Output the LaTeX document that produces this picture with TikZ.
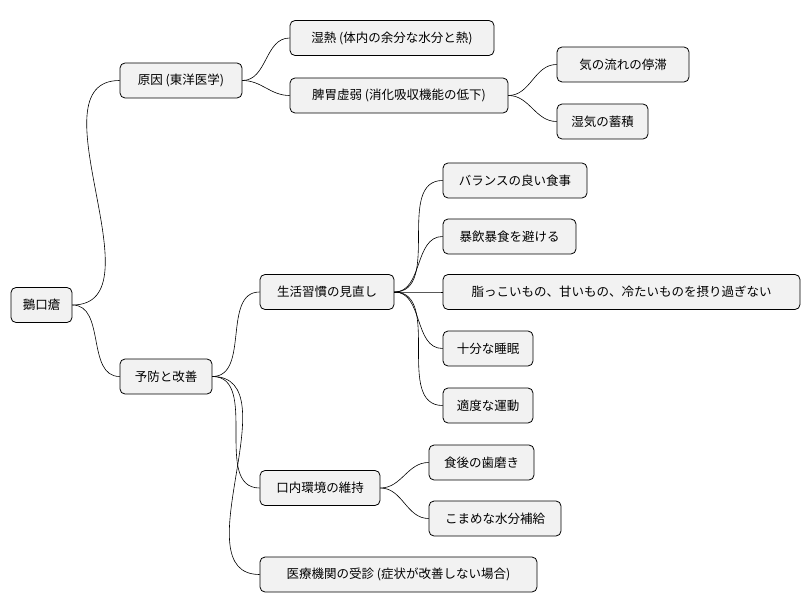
\documentclass[tikz,border=0pt]{standalone}
\usepackage{fontspec}
\setmainfont{Noto Sans CJK JP}
\begin{document}
\begin{tikzpicture}[x=1pt,y=-1pt,
  box/.style={draw=black,line width=0.8pt,fill=black!5,rounded corners=5pt,minimum height=35pt,inner xsep=4pt,font=\fontsize{12.5}{14}\selectfont},
  ln/.style={line width=0.6pt}]
\useasboundingbox (0,0) rectangle (810,612);
\def\B#1#2#3#4#5{\node[box,minimum width=#4pt] (#1) at (#2,#3) {#5};}
\B{root}{41.5}{305}{61}{鵝口瘡}
\B{a}{181}{80.5}{122}{原因 (東洋医学)}
\B{a1}{392}{38}{204}{湿熱 (体内の余分な水分と熱)}
\B{a2}{399}{95.5}{218}{脾胃虚弱 (消化吸収機能の低下)}
\B{a21}{623}{64.5}{132}{気の流れの停滞}
\B{a22}{602.5}{121.5}{91}{湿気の蓄積}
\B{b}{166}{376.5}{92}{予防と改善}
\B{b1}{327}{292}{134}{生活習慣の見直し}
\B{b11}{515}{180.5}{144}{バランスの良い食事}
\B{b12}{509.5}{236.5}{133}{暴飲暴食を避ける}
\B{b13}{621.5}{292}{357}{脂っこいもの、甘いもの、冷たいものを摂り過ぎない}
\B{b14}{488}{348.5}{90}{十分な睡眠}
\B{b15}{488}{405.5}{90}{適度な運動}
\B{b2}{320}{488}{120}{口内環境の維持}
\B{b21}{481.5}{462.5}{105}{食後の歯磨き}
\B{b22}{495}{518.5}{132}{こまめな水分補給}
\B{b3}{398.5}{574.5}{277}{医療機関の受診 (症状が改善しない場合)}
\foreach \p/\c in {root/a,root/b,a/a1,a/a2,a2/a21,a2/a22,b/b1,b/b2,b/b3,b1/b11,b1/b12,b1/b13,b1/b14,b1/b15,b2/b21,b2/b22}
  \draw[ln] (\p.east) to[out=0,in=180] (\c.west);
\end{tikzpicture}
\end{document}
